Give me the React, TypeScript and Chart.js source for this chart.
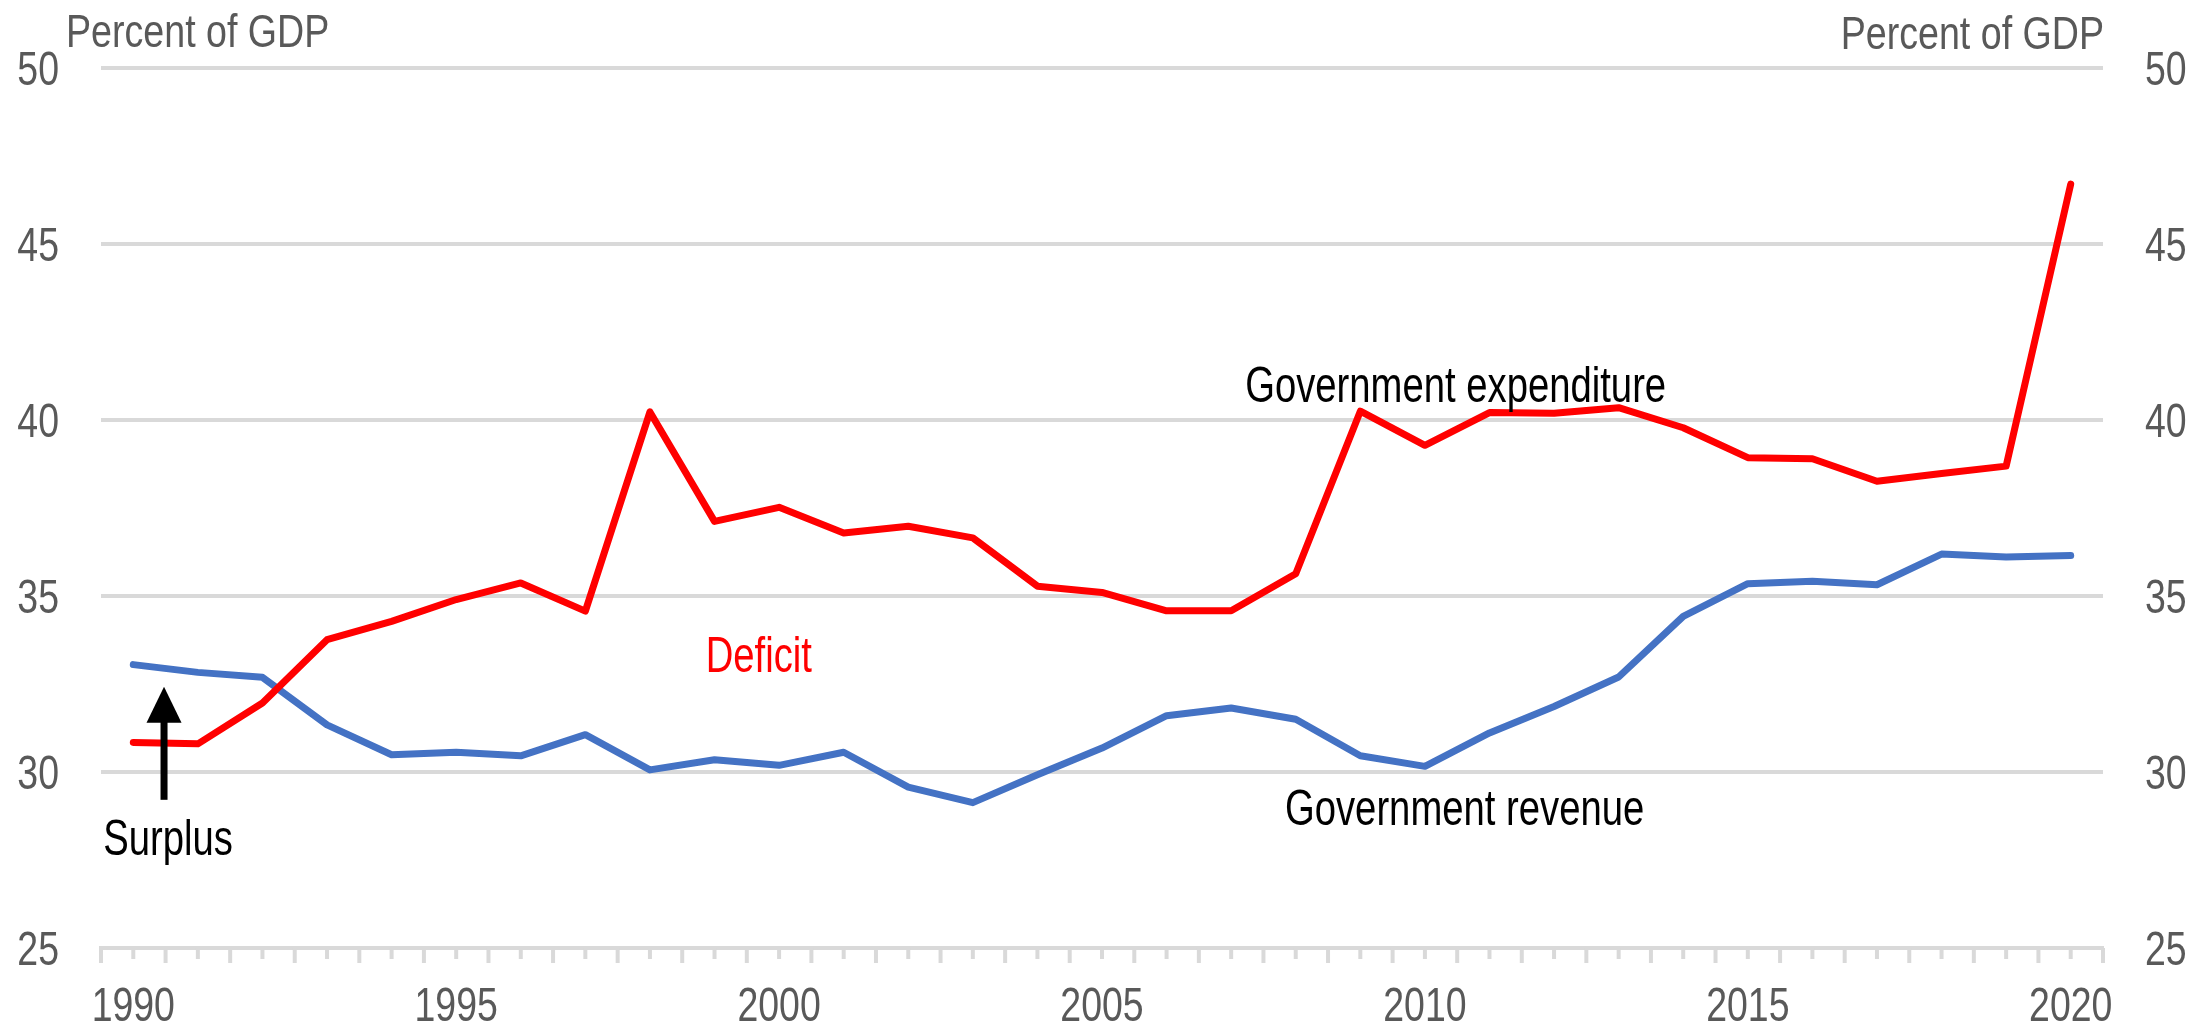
import React, { useEffect, useRef } from "react";
import { Chart, registerables } from "chart.js";

Chart.register(...registerables);

const years: string[] = [
  "1990", "1991", "1992", "1993", "1994", "1995", "1996", "1997", "1998", "1999",
  "2000", "2001", "2002", "2003", "2004", "2005", "2006", "2007", "2008", "2009",
  "2010", "2011", "2012", "2013", "2014", "2015", "2016", "2017", "2018", "2019", "2020",
];

const expenditure: number[] = [
  30.84, 30.8, 31.96, 33.76, 34.28, 34.9, 35.37, 34.57, 40.23, 37.12,
  37.52, 36.79, 36.98, 36.65, 35.28, 35.1, 34.58, 34.58, 35.63, 40.25,
  39.28, 40.21, 40.19, 40.35, 39.78, 38.93, 38.9, 38.26, 38.48, 38.69, 46.7,
];

const revenue: number[] = [
  33.05, 32.83, 32.69, 31.34, 30.49, 30.56, 30.46, 31.06, 30.06, 30.35,
  30.19, 30.56, 29.57, 29.13, 29.92, 30.68, 31.6, 31.82, 31.5, 30.46,
  30.16, 31.11, 31.86, 32.7, 34.42, 35.35, 35.42, 35.32, 36.19, 36.11, 36.15,
];

const yTicks: number[] = [25, 30, 35, 40, 45, 50];
const xTickLabels: string[] = ["1990", "1995", "2000", "2005", "2010", "2015", "2020"];
const axisTitle = "Percent of GDP";

// annotations: text, x (category index), y (value), colour
const notes: { text: string; x: number; y: number; color: string }[] = [
  { text: "Government expenditure", x: 20.476, y: 40.5, color: "#000000" },
  { text: "Government revenue", x: 20.615, y: 28.5, color: "#000000" },
  { text: "Deficit", x: 9.686, y: 32.85, color: "#FF0000" },
  { text: "Surplus", x: 0.538, y: 27.65, color: "#000000" },
];
const arrow = { x: 0.476, from: 29.21, headBase: 31.4, tip: 32.42 };

const FONT = '"Liberation Sans", Arial, sans-serif';
const GRID = "#d9d9d9";
const TEXT = "#595959";

function narrowText(
  ctx: CanvasRenderingContext2D,
  text: string,
  x: number,
  y: number,
  align: CanvasTextAlign,
  sx: number
) {
  ctx.save();
  ctx.translate(x, y);
  ctx.scale(sx, 1);
  ctx.textAlign = align;
  ctx.textBaseline = "alphabetic";
  ctx.fillText(text, 0, 0);
  ctx.restore();
}

export default function App() {
  const ref = useRef<HTMLCanvasElement | null>(null);

  useEffect(() => {
    if (!ref.current) return;

    const decor = {
      id: "decor",
      afterDatasetsDraw(chart: any) {
        const ctx: CanvasRenderingContext2D = chart.ctx;
        const xs = chart.scales.x;
        const ys = chart.scales.y;
        const area = chart.chartArea;
        ctx.save();
        // x tick marks: long at category boundaries, short at centres
        ctx.strokeStyle = GRID;
        ctx.lineWidth = 4;
        ctx.lineCap = "butt";
        for (let i = 0; i <= years.length; i++) {
          const px = xs.getPixelForValue(i - 0.5);
          ctx.beginPath();
          ctx.moveTo(px, area.bottom);
          ctx.lineTo(px, area.bottom + 15);
          ctx.stroke();
        }
        for (let i = 0; i < years.length; i++) {
          const px = xs.getPixelForValue(i);
          ctx.beginPath();
          ctx.moveTo(px, area.bottom);
          ctx.lineTo(px, area.bottom + 11);
          ctx.stroke();
        }
        // arrow
        const ax = xs.getPixelForValue(arrow.x);
        const y0 = ys.getPixelForValue(arrow.from);
        const yb = ys.getPixelForValue(arrow.headBase);
        const yt = ys.getPixelForValue(arrow.tip);
        ctx.fillStyle = "#000000";
        ctx.fillRect(ax - 3.5, yb - 1, 7, y0 - yb + 1);
        ctx.beginPath();
        ctx.moveTo(ax - 17.5, yb);
        ctx.lineTo(ax + 17.5, yb);
        ctx.lineTo(ax, yt);
        ctx.closePath();
        ctx.fill();
        // annotations
        ctx.font = `50px ${FONT}`;
        for (const n of notes) {
          ctx.fillStyle = n.color;
          narrowText(ctx, n.text, xs.getPixelForValue(n.x), ys.getPixelForValue(n.y), "center", 0.765);
        }
        // tick labels
        ctx.fillStyle = TEXT;
        ctx.font = `48px ${FONT}`;
        for (const v of yTicks) {
          const py = ys.getPixelForValue(v) + 17;
          narrowText(ctx, String(v), area.left - 42, py, "right", 0.78);
          narrowText(ctx, String(v), area.right + 42, py, "left", 0.78);
        }
        for (const lab of xTickLabels) {
          const idx = years.indexOf(lab);
          narrowText(ctx, lab, xs.getPixelForValue(idx), area.bottom + 73, "center", 0.78);
        }
        // axis titles
        ctx.font = `47px ${FONT}`;
        narrowText(ctx, axisTitle, area.left - 35, area.top - 21, "left", 0.8);
        narrowText(ctx, axisTitle, area.right + 1, area.top - 19, "right", 0.8);
        ctx.restore();
      },
    };

    const chart = new Chart(ref.current, {
      type: "line",
      data: {
        labels: years,
        datasets: [
          {
            label: "Government expenditure",
            data: expenditure,
            borderColor: "#FF0000",
            backgroundColor: "#FF0000",
            borderWidth: 7,
            pointRadius: 0,
            borderJoinStyle: "round",
            borderCapStyle: "round",
            tension: 0,
          },
          {
            label: "Government revenue",
            data: revenue,
            borderColor: "#4472C4",
            backgroundColor: "#4472C4",
            borderWidth: 7,
            pointRadius: 0,
            borderJoinStyle: "round",
            borderCapStyle: "round",
            tension: 0,
          },
        ],
      },
      options: {
        responsive: false,
        animation: false,
        layout: { padding: { top: 68, left: 0, right: 0, bottom: 0 } },
        plugins: { legend: { display: false }, tooltip: { enabled: false } },
        scales: {
          x: {
            type: "category",
            offset: true,
            afterFit(scale: any) {
              scale.height = 79;
            },
            grid: { display: false, drawTicks: false },
            border: { display: true, color: GRID, width: 4 },
            ticks: { display: false, autoSkip: false, maxRotation: 0, minRotation: 0 },
          },
          y: {
            position: "left",
            min: 25,
            max: 50,
            afterFit(scale: any) {
              scale.width = 101;
            },
            afterBuildTicks(scale: any) {
              scale.ticks = yTicks.map((v) => ({ value: v }));
            },
            grid: { color: GRID, lineWidth: 4, drawTicks: false },
            border: { display: false },
            ticks: { display: false },
          },
          y2: {
            position: "right",
            min: 25,
            max: 50,
            afterFit(scale: any) {
              scale.width = 106;
            },
            afterBuildTicks(scale: any) {
              scale.ticks = yTicks.map((v) => ({ value: v }));
            },
            grid: { display: false, drawTicks: false },
            border: { display: false },
            ticks: { display: false },
          },
        },
      },
      plugins: [decor],
    });
    return () => chart.destroy();
  }, []);

  return (
    <div style={{ position: "absolute", left: 0, top: 0, width: 2209, height: 1027, background: "#fff" }}>
      <canvas ref={ref} width={2209} height={1027} style={{ display: "block" }} />
    </div>
  );
}
